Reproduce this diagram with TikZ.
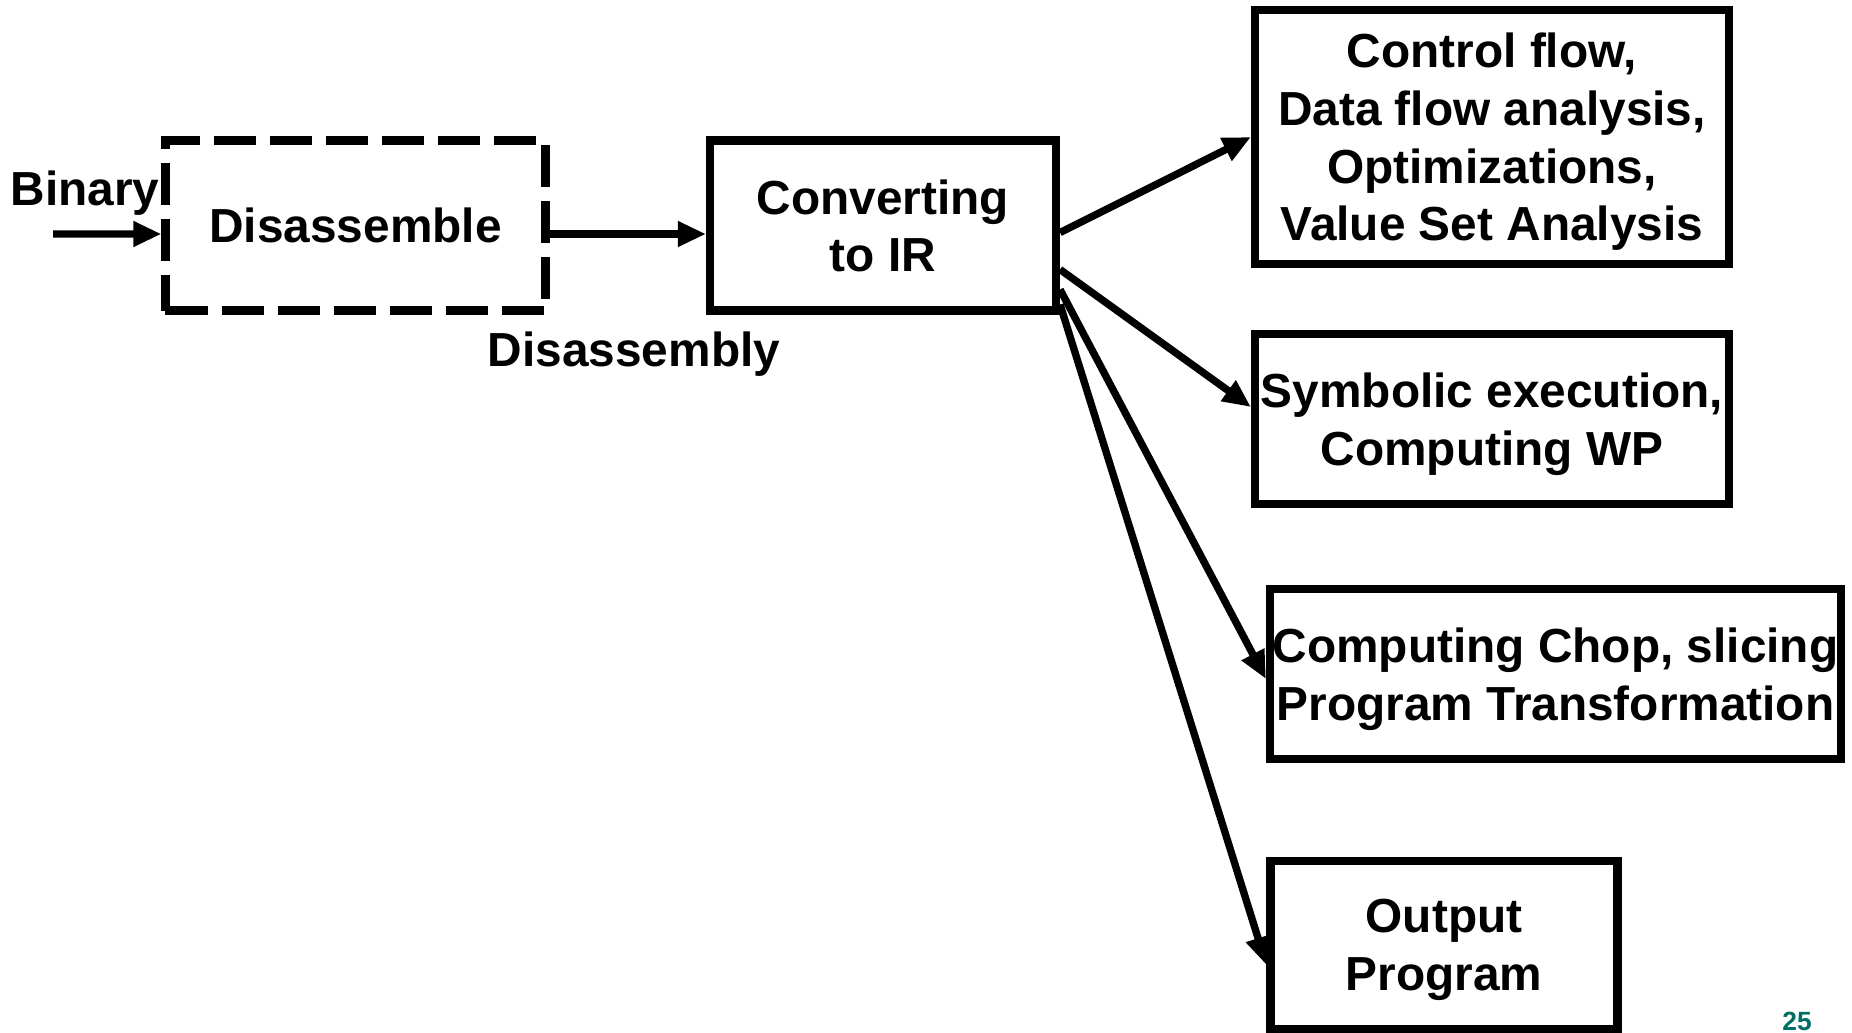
\documentclass[tikz,border=0pt]{standalone}
\usepackage{fontspec}
\setmainfont{Liberation Sans}
\usepackage{xcolor}
\usetikzlibrary{arrows.meta}

\begin{document}
\begin{tikzpicture}[
    box/.style = {draw, line width = 2.3pt, align = center, inner sep = 0pt, text depth = 0pt},
    flow/.style = {-{Triangle[length = 0.28cm, width = 0.24cm]}, line width = 2.1pt},
    font = \fontsize{13.6}{16.4}\selectfont\bfseries
  ]
  \useasboundingbox (0, 0) rectangle (18.52, -10.33);
  \definecolor{pageTeal}{RGB}{0, 110, 100};

  \node[box, dash pattern = on 0.42cm off 0.14cm, minimum width = 3.8cm, minimum height = 1.70cm] (dis) at (3.555, -2.255) {Disassemble};
  \node[box, minimum width = 3.46cm, minimum height = 1.70cm] (conv) at (8.83, -2.255) {Converting\\to IR};

  \node[box, minimum width = 4.74cm, minimum height = 2.54cm] (ctl) at (14.92, -1.37) {Control flow,\\Data flow analysis,\\Optimizations,\\Value Set Analysis};
  \node[box, minimum width = 4.74cm, minimum height = 1.70cm] (sym) at (14.92, -4.19) {Symbolic execution,\\Computing WP};
  \node[box, minimum width = 5.71cm, minimum height = 1.70cm] (chop) at (15.555, -6.74) {Computing Chop, slicing\\Program Transformation};
  \node[box, minimum width = 3.47cm, minimum height = 1.68cm] (out) at (14.44, -9.45) {Output\\Program};

  \coordinate (bin) at (0.53, -2.34);
  \node (binLabel) at (0.85, -1.93) {Binary};
  \node (disLabel) at (6.34, -3.54) {Disassembly};

  \draw[flow] (bin) -- ([yshift = -0.085cm]dis.west);
  \draw[flow] ([yshift = -0.085cm]dis.east) -- ([yshift = -0.085cm]conv.west);

  \draw[flow] ([yshift = -0.07cm]conv.east) -- (ctl.west);
  \draw[flow] ([yshift = -0.44cm]conv.east) -- ([yshift = 0.12cm]sym.west);
  \draw[flow] ([yshift = -0.64cm]conv.east) -- ([yshift = -0.05cm]chop.west);
  \draw[flow] ([yshift = -0.79cm]conv.east) -- ([yshift = -0.2cm]out.west);

  \node[anchor = base, inner sep = 0pt, text = pageTeal, font = \fontsize{7.5}{8}\selectfont\bfseries] (page) at (17.97, -10.30) {25};
\end{tikzpicture}
\end{document}
